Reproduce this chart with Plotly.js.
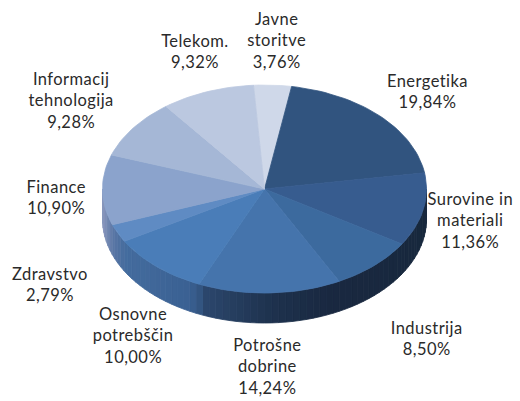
<!DOCTYPE html>
<html><head><meta charset="utf-8">
<script src="https://cdn.plot.ly/plotly-3.0.1.min.js"></script>
<style>html,body{margin:0;padding:0;background:#fff}#c{width:520px;height:401px}.annotation-text-g text{letter-spacing:0.45px}</style>
</head><body><div id="c"></div>
<script>
const categories=["Javne<br>storitve","Energetika","Surovine in<br>materiali","Industrija","Potrošne<br>dobrine","Osnovne<br>potrebščin","Zdravstvo","Finance","Informacij<br>tehnologija","Telekom."];
const values=[3.76,19.84,11.36,8.50,14.24,10.00,2.79,10.90,9.28,9.32];
const valueLabels=["3,76%","19,84%","11,36%","8,50%","14,24%","10,00%","2,79%","10,90%","9,28%","9,32%"];
const faceColors=["#cfd8e9","#31547f","#375c8f","#3c6a9e","#4574ac","#4a7db8","#5f8bc3","#8ba3cc","#a5b7d6","#bbc8e0"];
const labelX=[277,427,470,426,267,133,50,56,71,195];
const labelY=[40,91,220,338,366,335,284,197,100,51];
// wall shade stops: [x pixel, r, g, b]
const wallStops=[[103,135,150,188],[113,90,118,165],[125,68,108,158],[190,58,96,146],[200,50,84,128],[201,44,72,110],[270,30,50,78],[330,25,40,64],[426,24,40,62]];
const cx=264.5,cy=189,rx=162,ry=104,depth=30,startDeg=-3.9;
const px=d=>{const a=d*Math.PI/180;return [cx+rx*Math.sin(a),cy-ry*Math.cos(a)];};
function wallColor(x){
  for(let i=1;i<wallStops.length;i++){
    if(x<=wallStops[i][0]){const A=wallStops[i-1],B=wallStops[i],t=(x-A[0])/(B[0]-A[0]);
      return `rgb(${[1,2,3].map(k=>Math.round(A[k]+(B[k]-A[k])*Math.max(0,t))).join(",")})`;}
  }
  const L=wallStops[wallStops.length-1];return `rgb(${L[1]},${L[2]},${L[3]})`;
}
const total=values.reduce((a,b)=>a+b,0);
const traces=[];
const poly=(xs,ys,color)=>traces.push({type:"scatter",mode:"lines",x:xs,y:ys,fill:"toself",fillcolor:color,line:{color:color,width:0.8},hoverinfo:"skip",showlegend:false});
// side wall strips
for(let d=90;d<270;d+=2.5){
  const p0=px(d),p1=px(d+2.5);
  poly([p0[0],p1[0],p1[0],p0[0],p0[0]],[p0[1],p1[1],p1[1]+depth,p0[1]+depth,p0[1]],wallColor((p0[0]+p1[0])/2));
}
// top face wedges
let ang=startDeg;
values.forEach((v,i)=>{
  const sweep=v/total*360,xs=[cx],ys=[cy];
  const steps=Math.max(4,Math.ceil(sweep/2));
  for(let s=0;s<=steps;s++){const p=px(ang+sweep*s/steps);xs.push(p[0]);ys.push(p[1]);}
  xs.push(cx);ys.push(cy);
  poly(xs,ys,faceColors[i]);
  ang+=sweep;
});
const annotations=categories.map((c,i)=>({x:labelX[i],y:labelY[i],xref:"x",yref:"y",text:c+"<br>"+valueLabels[i],showarrow:false,xanchor:"center",yanchor:"middle",align:"center",font:{family:"Lato, sans-serif",size:16.5,color:"#2a2a2a"}}));
Plotly.newPlot("c",traces,{width:520,height:401,margin:{l:0,r:0,t:0,b:0},paper_bgcolor:"#fff",plot_bgcolor:"#fff",showlegend:false,
 xaxis:{range:[0,520],visible:false,fixedrange:true},yaxis:{range:[401,0],visible:false,fixedrange:true},annotations},{displayModeBar:false,staticPlot:true});
</script></body></html>
